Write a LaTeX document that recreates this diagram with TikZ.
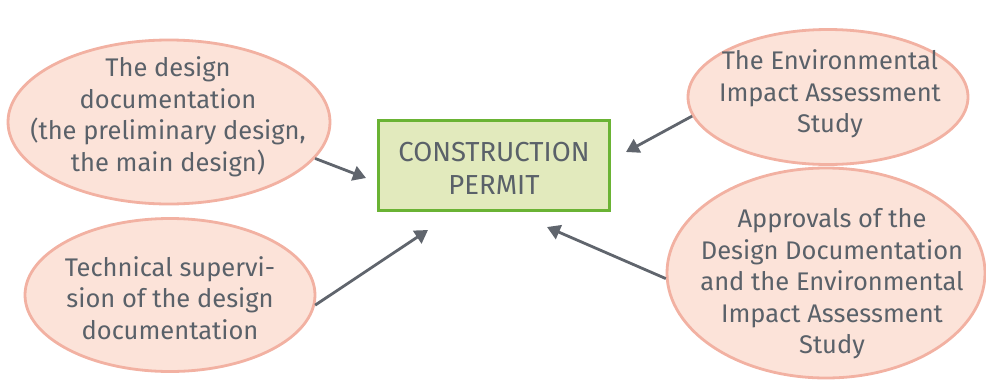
\documentclass[tikz,border=0pt]{standalone}
\usepackage{fontspec}
\setmainfont{Fira Sans}
\usetikzlibrary{shapes.geometric,arrows.meta}
\definecolor{txt}{HTML}{5A6169}
\definecolor{efill}{HTML}{FCE3D9}
\definecolor{edraw}{HTML}{F2B1A2}
\definecolor{bfill}{HTML}{E2EABD}
\definecolor{bdraw}{HTML}{6AB334}
\definecolor{arr}{HTML}{60656D}
\tikzset{
  bubble/.style={ellipse, draw=edraw, fill=efill, line width=2.8pt, inner sep=0pt},
  label text/.style={align=center, text=txt, inner sep=0pt, font=\fontsize{25.5pt}{31.5pt}\selectfont},
  permit/.style={rectangle, draw=bdraw, fill=bfill, line width=3pt, inner sep=0pt},
  link/.style={draw=arr, line width=2.8pt, -{Triangle[length=13pt,width=15pt]}}
}
\begin{document}
\begin{tikzpicture}[x=1pt,y=-1pt]
\useasboundingbox (0,0) rectangle (986,381);
\node[permit, minimum width=231pt, minimum height=90pt] (p) at (493.5,165) {};
\node[label text, font=\fontsize{27.5pt}{33pt}\selectfont] (pt) at (494,168) {CONSTRUCTION\\PERMIT};
\node[bubble, minimum width=322pt, minimum height=164pt] (e1) at (169,122) {};
\node[label text] (e1t) at (168,117) {The design\\documentation\\(the preliminary design,\\the main design)};
\node[bubble, minimum width=290pt, minimum height=153pt] (e2) at (170,295) {};
\node[label text] (e2t) at (170,298) {Technical supervi-\\sion of the design\\documentation};
\node[bubble, minimum width=280pt, minimum height=135pt] (e3) at (828,97) {};
\node[label text] (e3t) at (830,94) {The Environmental\\Impact Assessment\\Study};
\node[bubble, minimum width=318pt, minimum height=210pt] (e4) at (826,273) {};
\node[label text] (e4t) at (832,284) {Approvals of the\\Design Documentation\\and the Environmental\\Impact Assessment\\Study};
\coordinate (t1) at (366,178);
\coordinate (t2) at (428,230);
\coordinate (t3) at (626,152);
\coordinate (t4) at (547,227);
\draw[link] (e1.-14) -- (t1);
\draw[link] (e2.-4) -- (t2);
\draw[link] (e3.188) -- (t3);
\draw[link] (e4.182) -- (t4);
\end{tikzpicture}
\end{document}
